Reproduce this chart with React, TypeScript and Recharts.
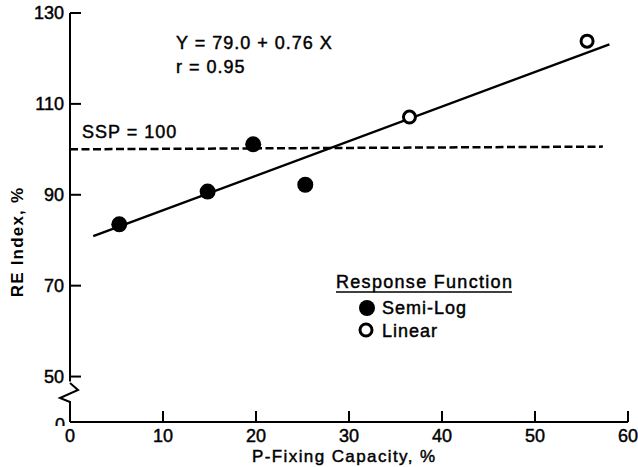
import React from 'react';
import { ComposedChart, Scatter, XAxis, YAxis, ReferenceLine } from 'recharts';

// Semi-log response function points
const semiLogX = [5.3, 14.8, 19.7, 25.3];
const semiLogY = [83.5, 90.7, 101.1, 92.2];

// Linear response function points
const linearX = [36.5, 55.6];
const linearY = [107.1, 123.8];

// Fitted line ends, and the SSP = 100 line
const fitX = [2.5, 58];
const fitY = [80.9, 123.1];
const sspX = [0, 57.3];
const sspY = [100, 100.6];

const xTicks = [0, 10, 20, 30, 40, 50, 60];
const yTicks = [40, 50, 70, 90, 110, 130];
const yTickLabels: Record<number, string> = { 40: '0', 50: '50', 70: '70', 90: '90', 110: '110', 130: '130' };

const semiLogData = semiLogX.map((x, i) => ({ x, y: semiLogY[i] }));
const linearData = linearX.map((x, i) => ({ x, y: linearY[i] }));

const FONT = '"Liberation Sans", Arial, Helvetica, sans-serif';
// scanned print looks a little heavier than regular weight
const HEAVY = { stroke: '#000', strokeWidth: 0.45 };

const FilledDot = (props: any) => <circle cx={props.cx} cy={props.cy} r={8} fill="#000" />;
const OpenDot = (props: any) => (
  <circle cx={props.cx} cy={props.cy} r={6} fill="#fff" stroke="#000" strokeWidth={3} />
);

const YTick = (props: any) => {
  const { x, y, payload } = props;
  const v = payload.value;
  if (v === 40) {
    // axis break zigzag plus the clipped origin label
    return (
      <g>
        <path
          d={`M${x},${y} L${x},${y - 20} L${x - 10},${y - 24} L${x + 8},${y - 32} L${x},${y - 39}`}
          fill="none"
          stroke="#000"
          strokeWidth={2}
        />
        <defs>
          <clipPath id="zeroClip">
            <rect x={x - 20} y={y - 6} width={16} height={10} />
          </clipPath>
        </defs>
        <text x={x - 5} y={y + 9} textAnchor="end" fontSize={18} fontFamily={FONT} fill="#000" clipPath="url(#zeroClip)" {...HEAVY}>
          {yTickLabels[v]}
        </text>
      </g>
    );
  }
  return (
    <g>
      <line x1={x} y1={y} x2={x + 11} y2={y} stroke="#000" strokeWidth={2} />
      <text x={x - 6} y={y + 6} textAnchor="end" fontSize={18} fontFamily={FONT} fill="#000" {...HEAVY}>
        {yTickLabels[v]}
      </text>
    </g>
  );
};

const XTick = (props: any) => {
  const { x, y, payload } = props;
  return (
    <g>
      {payload.value !== 0 && <line x1={x} y1={y} x2={x} y2={y - 11} stroke="#000" strokeWidth={2} />}
      <text x={x} y={y + 20} textAnchor="middle" fontSize={18} fontFamily={FONT} fill="#000" {...HEAVY}>
        {payload.value}
      </text>
    </g>
  );
};

export default function App() {
  return (
    <div style={{ position: 'absolute', left: 0, top: 0, width: 638, height: 467, background: '#fff' }}>
      <ComposedChart width={638} height={467} margin={{ top: 13, right: 10, bottom: 0, left: 10 }}>
        <XAxis
          type="number"
          dataKey="x"
          domain={[0, 60]}
          ticks={xTicks}
          height={45}
          tickSize={0}
          tickMargin={0}
          tick={<XTick />}
          axisLine={{ stroke: '#000', strokeWidth: 2 }}
          tickLine={false}
          allowDataOverflow
        />
        <YAxis
          type="number"
          dataKey="y"
          domain={[40, 130]}
          ticks={yTicks}
          width={60}
          tickSize={0}
          tickMargin={0}
          tick={<YTick />}
          axisLine={false}
          tickLine={false}
          allowDataOverflow
        />
        <ReferenceLine
          segment={[{ x: 0, y: 48.9 }, { x: 0, y: 130 }]}
          stroke="#000"
          strokeWidth={2}
        />
        <ReferenceLine
          segment={[{ x: sspX[0], y: sspY[0] }, { x: sspX[1], y: sspY[1] }]}
          stroke="#000"
          strokeWidth={2.5}
          strokeDasharray="8 3.5"
        />
        <ReferenceLine
          segment={[{ x: fitX[0], y: fitY[0] }, { x: fitX[1], y: fitY[1] }]}
          stroke="#000"
          strokeWidth={2.4}
        />
        <Scatter data={semiLogData} shape={<FilledDot />} isAnimationActive={false} />
        <Scatter data={linearData} shape={<OpenDot />} isAnimationActive={false} />
      </ComposedChart>
      <svg
        width={638}
        height={467}
        style={{ position: 'absolute', left: 0, top: 0, pointerEvents: 'none' }}
        fontFamily={FONT}
        fill="#000"
      >
        <g {...HEAVY}>
          <text x={176} y={49} fontSize={18} letterSpacing={1}>Y = 79.0 + 0.76 X</text>
          <text x={176} y={73} fontSize={18} letterSpacing={1}>r = 0.95</text>
          <text x={82} y={138} fontSize={18} letterSpacing={1}>SSP = 100</text>

          <text x={336} y={288} fontSize={18} letterSpacing={1.3}>Response Function</text>
          <text x={382} y={314} fontSize={18} letterSpacing={1}>Semi-Log</text>
          <text x={382} y={337} fontSize={18} letterSpacing={1}>Linear</text>

          <text x={252} y={462} fontSize={17} letterSpacing={1.4}>P-Fixing Capacity, %</text>
        </g>
        <line x1={336} y1={292} x2={512} y2={292} stroke="#000" strokeWidth={1.5} />
        <circle cx={367} cy={308} r={8} fill="#000" />
        <circle cx={366} cy={330} r={6} fill="#fff" stroke="#000" strokeWidth={3} />
        <text
          x={23}
          y={242}
          fontSize={17}
          fontWeight="bold"
          letterSpacing={1.2}
          textAnchor="middle"
          transform="rotate(-90 23 242)"
        >
          RE Index, %
        </text>
      </svg>
    </div>
  );
}
